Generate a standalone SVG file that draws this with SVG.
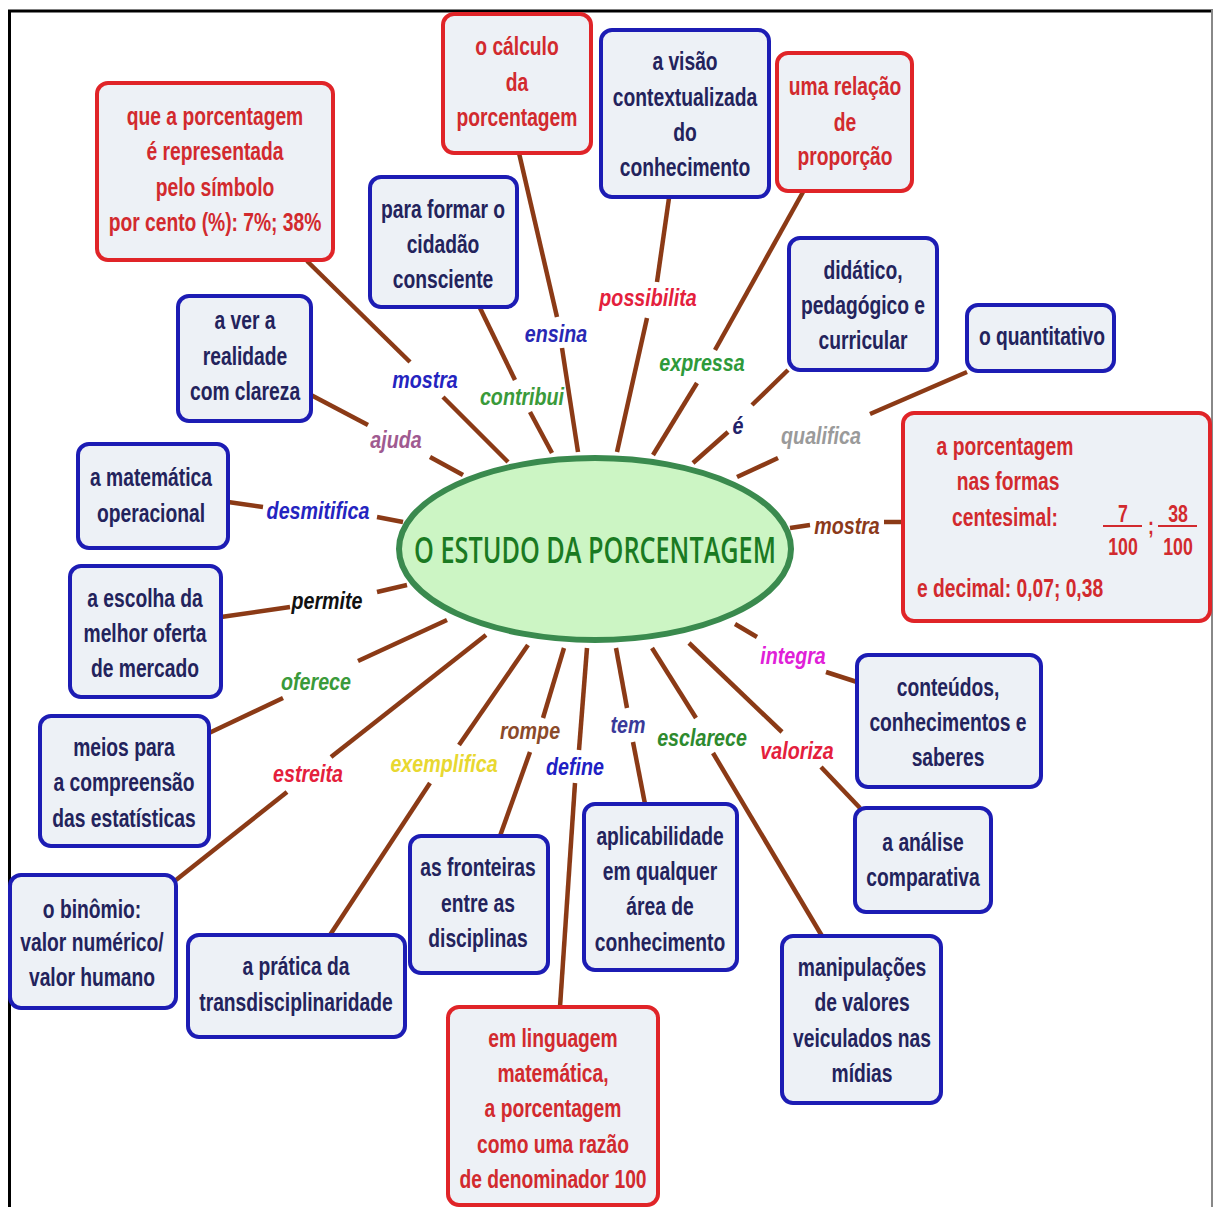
<svg xmlns="http://www.w3.org/2000/svg" width="1213" height="1207" viewBox="0 0 1213 1207">
<style>
.bb{fill:#edf1f6;stroke:#1c1cb4;stroke-width:4}
.rb{fill:#edf1f6;stroke:#e02428;stroke-width:4}
.bt{font-family:"Liberation Sans",Arial,sans-serif;font-weight:bold;font-size:25px;fill:#23235c;text-anchor:middle}
.rt{font-family:"Liberation Sans",Arial,sans-serif;font-weight:bold;font-size:25px;fill:#d22a2e;text-anchor:middle}
.lb{font-family:"Liberation Sans",Arial,sans-serif;font-weight:bold;font-style:italic;font-size:24px;text-anchor:middle}
.cn line{stroke:#8b3a16;stroke-width:4.5;stroke-linecap:butt}
</style>
<rect width="1213" height="1207" fill="#ffffff"/>
<line x1="8" y1="11" x2="1213" y2="11" stroke="#000" stroke-width="3"/>
<line x1="9.5" y1="10" x2="9.5" y2="1207" stroke="#000" stroke-width="3"/>
<line x1="1212" y1="10" x2="1212" y2="1207" stroke="#888" stroke-width="2"/>

<g id="connectors" class="cn">
<line x1="307" y1="261" x2="410" y2="362"/><line x1="443" y1="397" x2="508" y2="462"/>
<line x1="480" y1="308" x2="515" y2="380"/><line x1="530" y1="412" x2="552" y2="453"/>
<line x1="519" y1="153" x2="557" y2="317"/><line x1="562" y1="348" x2="578" y2="452"/>
<line x1="669" y1="198" x2="657" y2="282"/><line x1="647" y1="318" x2="617" y2="452"/>
<line x1="803" y1="192" x2="715" y2="350"/><line x1="697" y1="383" x2="653" y2="455"/>
<line x1="788" y1="370" x2="752" y2="405"/><line x1="728" y1="432" x2="693" y2="463"/>
<line x1="967" y1="372" x2="870" y2="414"/><line x1="778" y1="458" x2="737" y2="477"/>
<line x1="790" y1="528" x2="810" y2="525"/><line x1="884" y1="522" x2="903" y2="522"/>
<line x1="735" y1="624" x2="757" y2="637"/><line x1="826" y1="672" x2="857" y2="682"/>
<line x1="689" y1="643" x2="782" y2="732"/><line x1="821" y1="767" x2="860" y2="808"/>
<line x1="652" y1="648" x2="696" y2="718"/><line x1="713" y1="753" x2="822" y2="936"/>
<line x1="616" y1="648" x2="627" y2="708"/><line x1="633" y1="742" x2="645" y2="804"/>
<line x1="587" y1="648" x2="579" y2="750"/><line x1="575" y1="783" x2="560" y2="1007"/>
<line x1="564" y1="648" x2="543" y2="718"/><line x1="530" y1="752" x2="500" y2="836"/>
<line x1="528" y1="645" x2="459" y2="745"/><line x1="430" y1="783" x2="330" y2="935"/>
<line x1="486" y1="635" x2="331" y2="757"/><line x1="287" y1="792" x2="176" y2="880"/>
<line x1="447" y1="620" x2="358" y2="661"/><line x1="283" y1="698" x2="209" y2="733"/>
<line x1="407" y1="585" x2="377" y2="592"/><line x1="290" y1="607" x2="221" y2="617"/>
<line x1="403" y1="522" x2="377" y2="517"/><line x1="263" y1="507" x2="228" y2="502"/>
<line x1="463" y1="475" x2="430" y2="457"/><line x1="368" y1="425" x2="311" y2="395"/>
</g>

<g id="labels" class="lb">
<text transform="translate(425 0) scale(0.82 1)" fill="#2424c0"><tspan x="0" y="388">mostra</tspan></text>
<text transform="translate(522 0) scale(0.82 1)" fill="#3a9a3a"><tspan x="0" y="405">contribui</tspan></text>
<text transform="translate(556 0) scale(0.82 1)" fill="#2828b4"><tspan x="0" y="342">ensina</tspan></text>
<text transform="translate(648 0) scale(0.82 1)" fill="#e4203c"><tspan x="0" y="306">possibilita</tspan></text>
<text transform="translate(702 0) scale(0.82 1)" fill="#2e9a3a"><tspan x="0" y="371">expressa</tspan></text>
<text transform="translate(738 0) scale(0.82 1)" fill="#22226a"><tspan x="0" y="434">é</tspan></text>
<text transform="translate(821 0) scale(0.82 1)" fill="#9a9a9a"><tspan x="0" y="444">qualifica</tspan></text>
<text transform="translate(847 0) scale(0.82 1)" fill="#8b3a1a"><tspan x="0" y="534">mostra</tspan></text>
<text transform="translate(793 0) scale(0.82 1)" fill="#e020d8"><tspan x="0" y="664">integra</tspan></text>
<text transform="translate(797 0) scale(0.82 1)" fill="#e4203c"><tspan x="0" y="759">valoriza</tspan></text>
<text transform="translate(702 0) scale(0.82 1)" fill="#2e8a2e"><tspan x="0" y="746">esclarece</tspan></text>
<text transform="translate(628 0) scale(0.82 1)" fill="#3a3a9a"><tspan x="0" y="733">tem</tspan></text>
<text transform="translate(575 0) scale(0.82 1)" fill="#2020c4"><tspan x="0" y="775">define</tspan></text>
<text transform="translate(530 0) scale(0.82 1)" fill="#8b4a2a"><tspan x="0" y="739">rompe</tspan></text>
<text transform="translate(444 0) scale(0.82 1)" fill="#e8d830"><tspan x="0" y="772">exemplifica</tspan></text>
<text transform="translate(308 0) scale(0.82 1)" fill="#e4203c"><tspan x="0" y="782">estreita</tspan></text>
<text transform="translate(316 0) scale(0.82 1)" fill="#3a9a3a"><tspan x="0" y="690">oferece</tspan></text>
<text transform="translate(327 0) scale(0.82 1)" fill="#111111"><tspan x="0" y="609">permite</tspan></text>
<text transform="translate(318 0) scale(0.82 1)" fill="#2424c0"><tspan x="0" y="519">desmitifica</tspan></text>
<text transform="translate(396 0) scale(0.82 1)" fill="#a05a90"><tspan x="0" y="448">ajuda</tspan></text>
</g>

<g id="center">
<ellipse cx="595" cy="549" rx="196" ry="91" fill="#ccf5c4" stroke="#3a8a4e" stroke-width="6"/>
<text transform="translate(595 0) scale(0.7 1)" x="0" y="563" font-family="'Open Sans','Liberation Sans',sans-serif" font-weight="600" font-size="37" fill="#1a7a22" text-anchor="middle" textLength="517" lengthAdjust="spacingAndGlyphs">O ESTUDO DA PORCENTAGEM</text>
</g>

<g id="nA"><rect class="rb" x="97" y="83" width="236" height="177" rx="11"/>
<text class="rt" transform="translate(215 0) scale(0.77 1)"><tspan x="0" y="125">que a porcentagem</tspan><tspan x="0" y="160">é representada</tspan><tspan x="0" y="196">pelo símbolo</tspan><tspan x="0" y="231">por cento (%): 7%; 38%</tspan></text></g>

<g id="nB"><rect class="rb" x="443" y="14" width="148" height="139" rx="11"/>
<text class="rt" transform="translate(517 0) scale(0.77 1)"><tspan x="0" y="55">o cálculo</tspan><tspan x="0" y="91">da</tspan><tspan x="0" y="126">porcentagem</tspan></text></g>

<g id="nC"><rect class="bb" x="601" y="30" width="168" height="167" rx="11"/>
<text class="bt" transform="translate(685 0) scale(0.77 1)"><tspan x="0" y="70">a visão</tspan><tspan x="0" y="106">contextualizada</tspan><tspan x="0" y="141">do</tspan><tspan x="0" y="176">conhecimento</tspan></text></g>

<g id="nD"><rect class="rb" x="777" y="53" width="135" height="138" rx="11"/>
<text class="rt" transform="translate(845 0) scale(0.77 1)"><tspan x="0" y="95">uma relação</tspan><tspan x="0" y="131">de</tspan><tspan x="0" y="165">proporção</tspan></text></g>

<g id="nE"><rect class="bb" x="370" y="177" width="147" height="130" rx="11"/>
<text class="bt" transform="translate(443 0) scale(0.77 1)"><tspan x="0" y="218">para formar o</tspan><tspan x="0" y="253">cidadão</tspan><tspan x="0" y="288">consciente</tspan></text></g>

<g id="nF"><rect class="bb" x="789" y="238" width="148" height="132" rx="11"/>
<text class="bt" transform="translate(863 0) scale(0.77 1)"><tspan x="0" y="279">didático,</tspan><tspan x="0" y="314">pedagógico e</tspan><tspan x="0" y="349">curricular</tspan></text></g>

<g id="nG"><rect class="bb" x="967" y="305" width="147" height="66" rx="11"/>
<text class="bt" transform="translate(1042 0) scale(0.77 1)"><tspan x="0" y="345">o quantitativo</tspan></text></g>

<g id="nH"><rect class="bb" x="178" y="296" width="133" height="125" rx="11"/>
<text class="bt" transform="translate(245 0) scale(0.77 1)"><tspan x="0" y="329">a ver a</tspan><tspan x="0" y="365">realidade</tspan><tspan x="0" y="400">com clareza</tspan></text></g>

<g id="nI"><rect class="bb" x="78" y="444" width="150" height="104" rx="11"/>
<text class="bt" transform="translate(151 0) scale(0.77 1)"><tspan x="0" y="486">a matemática</tspan><tspan x="0" y="522">operacional</tspan></text></g>

<g id="nJ"><rect class="bb" x="70" y="566" width="151" height="131" rx="11"/>
<text class="bt" transform="translate(145 0) scale(0.77 1)"><tspan x="0" y="607">a escolha da</tspan><tspan x="0" y="642">melhor oferta</tspan><tspan x="0" y="677">de mercado</tspan></text></g>

<g id="nK"><rect class="bb" x="40" y="716" width="169" height="130" rx="11"/>
<text class="bt" transform="translate(124 0) scale(0.77 1)"><tspan x="0" y="756">meios para</tspan><tspan x="0" y="791">a compreensão</tspan><tspan x="0" y="827">das estatísticas</tspan></text></g>

<g id="nL"><rect class="bb" x="10" y="875" width="166" height="133" rx="11"/>
<text class="bt" transform="translate(92 0) scale(0.77 1)"><tspan x="0" y="918">o binômio:</tspan><tspan x="0" y="951">valor numérico/</tspan><tspan x="0" y="986">valor humano</tspan></text></g>

<g id="nM"><rect class="bb" x="188" y="935" width="217" height="102" rx="11"/>
<text class="bt" transform="translate(296 0) scale(0.77 1)"><tspan x="0" y="975">a prática da</tspan><tspan x="0" y="1011">transdisciplinaridade</tspan></text></g>

<g id="nN"><rect class="bb" x="410" y="836" width="138" height="137" rx="11"/>
<text class="bt" transform="translate(478 0) scale(0.77 1)"><tspan x="0" y="876">as fronteiras</tspan><tspan x="0" y="912">entre as</tspan><tspan x="0" y="947">disciplinas</tspan></text></g>

<g id="nO"><rect class="rb" x="448" y="1007" width="210" height="198" rx="11"/>
<text class="rt" transform="translate(553 0) scale(0.77 1)"><tspan x="0" y="1047">em linguagem</tspan><tspan x="0" y="1082">matemática,</tspan><tspan x="0" y="1117">a porcentagem</tspan><tspan x="0" y="1153">como uma razão</tspan><tspan x="0" y="1188">de denominador 100</tspan></text></g>

<g id="nP"><rect class="bb" x="584" y="804" width="153" height="166" rx="11"/>
<text class="bt" transform="translate(660 0) scale(0.77 1)"><tspan x="0" y="845">aplicabilidade</tspan><tspan x="0" y="880">em qualquer</tspan><tspan x="0" y="915">área de</tspan><tspan x="0" y="951">conhecimento</tspan></text></g>

<g id="nQ"><rect class="bb" x="782" y="936" width="159" height="167" rx="11"/>
<text class="bt" transform="translate(862 0) scale(0.77 1)"><tspan x="0" y="976">manipulações</tspan><tspan x="0" y="1011">de valores</tspan><tspan x="0" y="1047">veiculados nas</tspan><tspan x="0" y="1082">mídias</tspan></text></g>

<g id="nR"><rect class="bb" x="855" y="808" width="136" height="104" rx="11"/>
<text class="bt" transform="translate(923 0) scale(0.77 1)"><tspan x="0" y="851">a análise</tspan><tspan x="0" y="886">comparativa</tspan></text></g>

<g id="nS"><rect class="bb" x="857" y="655" width="184" height="132" rx="11"/>
<text class="bt" transform="translate(948 0) scale(0.77 1)"><tspan x="0" y="696">conteúdos,</tspan><tspan x="0" y="731">conhecimentos e</tspan><tspan x="0" y="766">saberes</tspan></text></g>

<g id="nT"><rect class="rb" x="903" y="413" width="307" height="208" rx="11"/>
<text class="rt" transform="translate(1005 0) scale(0.77 1)"><tspan x="0" y="455">a porcentagem</tspan><tspan x="4" y="490">nas formas</tspan><tspan x="0" y="526">centesimal:</tspan></text>
<text class="rt" transform="translate(1123 0) scale(0.77 1)" style="font-size:23px"><tspan x="0" y="522">7</tspan><tspan x="0" y="555">100</tspan></text>
<text class="rt" transform="translate(1178 0) scale(0.77 1)" style="font-size:23px"><tspan x="0" y="522">38</tspan><tspan x="0" y="555">100</tspan></text>
<text class="rt" transform="translate(1151 0) scale(0.77 1)" style="font-size:23px"><tspan x="0" y="534">;</tspan></text>
<line x1="1103" y1="526" x2="1142" y2="526" stroke="#d22a2e" stroke-width="2"/>
<line x1="1158" y1="526" x2="1197" y2="526" stroke="#d22a2e" stroke-width="2"/>
<text class="rt" transform="translate(917 0) scale(0.77 1)" style="text-anchor:start"><tspan x="0" y="597">e decimal: 0,07; 0,38</tspan></text>
</g>
</svg>
